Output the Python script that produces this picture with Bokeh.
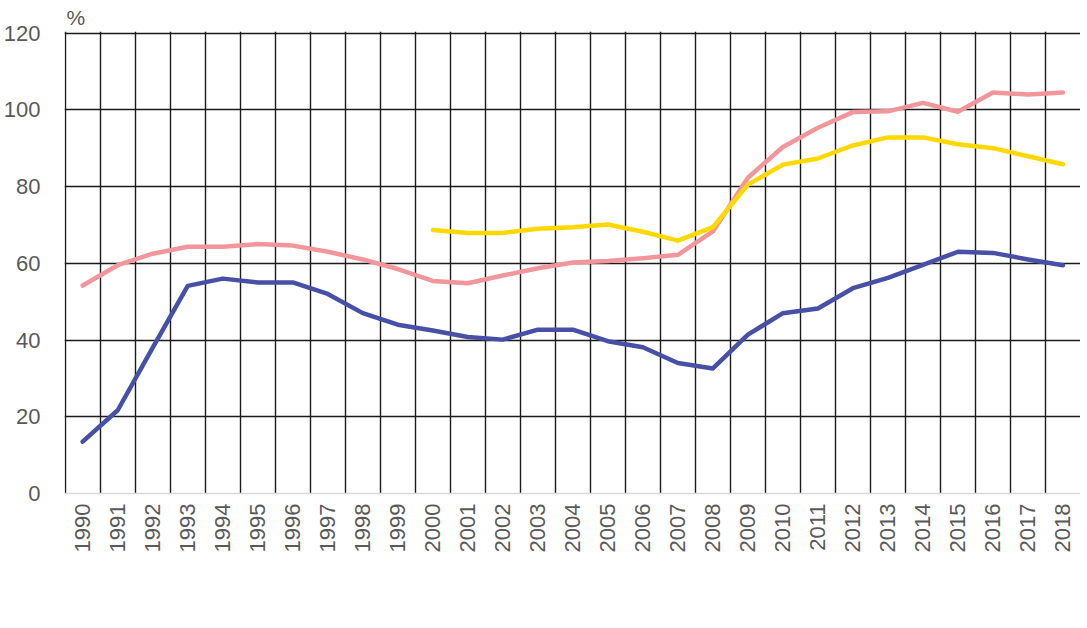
from bokeh.plotting import figure
from bokeh.models import (Range1d, FixedTicker, Legend, LegendItem)
from bokeh.embed import file_html
from bokeh.resources import INLINE
import math

years = list(range(1990, 2019))
finland = [13.5, 21.7, 38.0, 54.1, 56.0, 55.0, 55.0, 52.0, 47.0, 44.0,
           42.5, 40.8, 40.1, 42.7, 42.7, 39.7, 38.1, 34.0, 32.6, 41.4,
           47.0, 48.2, 53.5, 56.2, 59.6, 63.0, 62.7, 61.0, 59.5]
us = [54.2, 59.5, 62.5, 64.3, 64.3, 65.0, 64.6, 63.0, 61.0, 58.5,
      55.4, 54.8, 56.8, 58.7, 60.2, 60.6, 61.3, 62.2, 68.3, 82.3,
      90.3, 95.3, 99.4, 99.6, 101.8, 99.5, 104.5, 104.0, 104.5]
euro = [None] * 10 + [68.7, 67.9, 67.9, 69.0, 69.4, 70.1, 68.2, 65.9, 69.4, 80.5,
                      85.7, 87.3, 90.7, 92.8, 92.8, 91.0, 90.0, 87.9, 85.8]
euro = [float('nan') if v is None else v for v in euro]

y_ticks = [0, 20, 40, 60, 80, 100, 120]
series_names = ["Finland", "US", "Euro Area 19"]
colors = ["#4750A6", "#F2969B", "#FFD800"]

FONT = "Liberation Sans"
TXT = "#595959"

p = figure(frame_width=1016, frame_height=462, output_backend="svg", toolbar_location=None,
           x_range=Range1d(years[0] - 0.52, years[-1] + 0.5),
           y_range=Range1d(0, 120.4),
           title="%",
           min_border_left=55, min_border_right=0, min_border_top=0,
           min_border_bottom=0)
p.outline_line_color = None
p.background_fill_color = "white"
p.border_fill_color = "white"

p.title.text_font = FONT
p.title.text_font_size = "21px"
p.title.text_font_style = "normal"
p.title.text_color = TXT
p.title.align = "left"
p.title.offset = 2
p.title.standoff = 6

# axes
p.yaxis.ticker = FixedTicker(ticks=y_ticks)
p.yaxis.axis_line_color = None
p.yaxis.major_tick_line_color = None
p.yaxis.minor_tick_line_color = None
p.yaxis.major_label_text_font = FONT
p.yaxis.major_label_text_font_size = "22px"
p.yaxis.major_label_text_color = TXT
p.yaxis.major_label_standoff = 18

p.xaxis.ticker = FixedTicker(ticks=years)
p.xaxis.axis_line_color = "#D9D9D9"
p.xaxis.axis_line_width = 1.5
p.xaxis.major_tick_line_color = None
p.xaxis.minor_tick_line_color = None
p.xaxis.major_tick_out = 0
p.xaxis.major_tick_in = 0
p.xaxis.major_label_orientation = math.pi / 2
p.xaxis.major_label_text_font = FONT
p.xaxis.major_label_text_font_size = "22px"
p.xaxis.major_label_text_color = TXT
p.xaxis.major_label_standoff = 10

# grids
p.xgrid.ticker = FixedTicker(ticks=[y - 0.5 for y in years])
p.xgrid.grid_line_color = "#1A1A1A"
p.xgrid.grid_line_width = 1.4
p.ygrid.ticker = FixedTicker(ticks=y_ticks[1:])
p.ygrid.grid_line_color = "#1A1A1A"
p.ygrid.grid_line_width = 1.4

renderers = []
for vals, col in zip([finland, us, euro], colors):
    r = p.line(years, vals, line_color=col, line_width=4.5, line_join="round",
               line_cap="round")
    renderers.append(r)

legend = Legend(items=[LegendItem(label=n, renderers=[r]) for n, r in zip(series_names, renderers)],
                orientation="horizontal", location="center",
                label_text_font=FONT, label_text_font_size="21px",
                label_text_color=TXT, glyph_width=55, glyph_height=16,
                label_standoff=3, spacing=28, border_line_color=None,
                padding=1, margin=0, background_fill_alpha=0)
p.add_layout(legend, "below")

open("out.html", "w").write(file_html(p, INLINE))
